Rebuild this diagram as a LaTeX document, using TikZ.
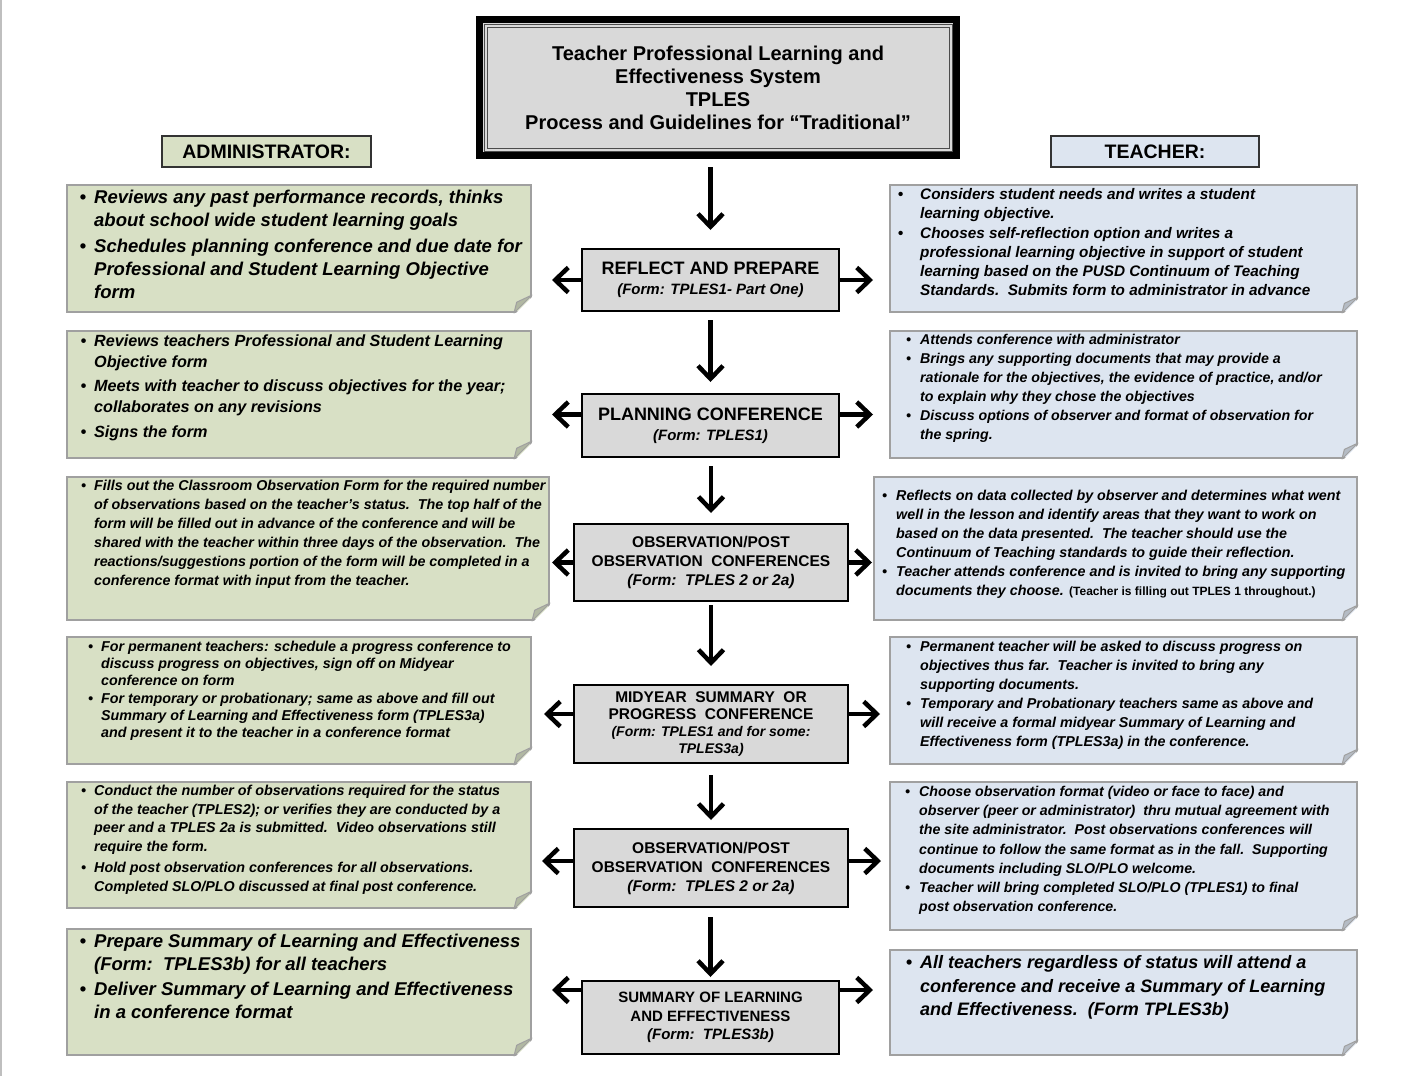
\documentclass[tikz,border=0pt]{standalone}
\usepackage{fontspec}
\setmainfont{Liberation Sans}
\usetikzlibrary{arrows.meta,positioning,calc}

\definecolor{admingreen}{RGB}{216,224,197}
\definecolor{teachblue}{RGB}{221,229,240}
\definecolor{stepgray}{RGB}{217,217,217}
\definecolor{noteline}{RGB}{160,160,160}

% hanging bullet and note font
\newcommand{\bul}[1]{\leavevmode\llap{\textbullet\hspace{#1pt}}}
\newcommand{\nf}[2]{\fontsize{#1}{#2}\selectfont\bfseries\itshape}

% folded corner: node, flap colour, size
\newcommand{\fold}[3]{%
  \fill[white] ([shift={(-#3pt,-2pt)}]#1.south east) -- ([shift={(2pt,-2pt)}]#1.south east)
               -- ([shift={(2pt,#3pt)}]#1.south east) -- cycle;
  \filldraw[fill=#2, draw=noteline, line width=1pt, line join=round]
      ([xshift=-#3pt]#1.south east) -- ([yshift=#3pt]#1.south east)
      -- ([shift={(-0.85*#3pt,0.6*#3pt)}]#1.south east) -- cycle;
}

\begin{document}
\begin{tikzpicture}[x=1pt, y=-1pt,
    notebox/.style={draw=noteline, line width=2pt, anchor=north west, inner sep=0pt},
    notetext/.style={anchor=north west, align=left, inner sep=0pt},
    stepbox/.style={draw=black, line width=2pt, fill=stepgray, align=center, inner sep=0pt},
    tagbox/.style={draw=black!80, line width=1.5pt, inner sep=0pt, font=\fontsize{19.5}{22}\selectfont\bfseries},
    flow/.style={line width=4.5pt, -{Straight Barb[length=13pt,width=25pt]}}]

    \useasboundingbox (0,0) rectangle (1409,1076);
    \draw[gray!50, line width=1.5pt] (0.75,0) -- (0.75,1076);

    % title
    \node[draw=black, line width=7pt, fill=stepgray, minimum width=477pt, minimum height=136pt,
          align=center, font=\fontsize{20}{23}\selectfont\bfseries] (title) at (718,87.5)
        {Teacher Professional Learning and\\ Effectiveness System\\ TPLES\\ Process and Guidelines for “Traditional”};
    \draw[black!70, line width=0.8pt] ([shift={(8pt,-8pt)}]title.north west) rectangle ([shift={(-8pt,8pt)}]title.south east);
    \draw[black!70, line width=0.8pt] ([shift={(11pt,-11pt)}]title.north west) rectangle ([shift={(-11pt,11pt)}]title.south east);

    % column heads
    \node[tagbox, fill=admingreen, minimum width=209pt, minimum height=31pt] (admin) at (266.5,151.5) {ADMINISTRATOR:};
    \node[tagbox, fill=teachblue, minimum width=208pt, minimum height=31pt] (teach) at (1155,151.5) {TEACHER:};

    % steps
    \node[stepbox, minimum width=257pt, minimum height=62pt, font=\fontsize{15}{20}\selectfont\bfseries] (s1) at (710.5,280)
        {{\fontsize{18}{20}\selectfont REFLECT AND PREPARE}\\ {\itshape (Form: TPLES1- Part One)}};
    \node[stepbox, minimum width=257pt, minimum height=63pt, font=\fontsize{15}{20}\selectfont\bfseries] (s2) at (710.5,425.5)
        {{\fontsize{18}{20}\selectfont PLANNING CONFERENCE}\\ {\itshape (Form: TPLES1)}};
    \node[stepbox, minimum width=274pt, minimum height=77pt, font=\fontsize{15.5}{19}\selectfont\bfseries] (s3) at (711,562.5)
        {OBSERVATION/POST\\ OBSERVATION\ \ CONFERENCES\\ {\itshape (Form:\ \ TPLES 2 or 2a)}};
    \node[stepbox, minimum width=274pt, minimum height=78pt, font=\fontsize{15.5}{17}\selectfont\bfseries] (s4) at (711,724)
        {MIDYEAR\ \ SUMMARY\ \ OR\\ PROGRESS\ \ CONFERENCE\\ {\itshape\fontsize{14}{16}\selectfont (Form: TPLES1 and for some:}\\ {\itshape\fontsize{14}{16}\selectfont TPLES3a)}};
    \node[stepbox, minimum width=274pt, minimum height=78pt, font=\fontsize{15.5}{19}\selectfont\bfseries] (s5) at (711,868)
        {OBSERVATION/POST\\ OBSERVATION\ \ CONFERENCES\\ {\itshape (Form:\ \ TPLES 2 or 2a)}};
    \node[stepbox, minimum width=257pt, minimum height=73pt, font=\fontsize{15}{18.5}\selectfont\bfseries] (s6) at (710.5,1017.5)
        {SUMMARY OF LEARNING\\ AND EFFECTIVENESS\\ {\itshape (Form:\ \ TPLES3b)}};

    % administrator notes
    \node[notebox, fill=admingreen, minimum width=464pt, minimum height=127pt] (a1) at (66,184) {};
    \node[notebox, fill=admingreen, minimum width=464pt, minimum height=127pt] (a2) at (66,330) {};
    \node[notebox, fill=admingreen, minimum width=482pt, minimum height=143pt] (a3) at (66,476) {};
    \node[notebox, fill=admingreen, minimum width=464pt, minimum height=127pt] (a4) at (66,636) {};
    \node[notebox, fill=admingreen, minimum width=464pt, minimum height=126pt] (a5) at (66,781) {};
    \node[notebox, fill=admingreen, minimum width=464pt, minimum height=126pt] (a6) at (66,928) {};
    \foreach \n in {a1,a2,a3,a4,a5,a6} {\fold{\n}{admingreen!82!black}{18}}

    % teacher notes
    \node[notebox, fill=teachblue, minimum width=467pt, minimum height=127pt] (t1) at (889,184) {};
    \node[notebox, fill=teachblue, minimum width=467pt, minimum height=127pt] (t2) at (889,330) {};
    \node[notebox, fill=teachblue, minimum width=483pt, minimum height=143pt] (t3) at (873,476) {};
    \node[notebox, fill=teachblue, minimum width=467pt, minimum height=127pt] (t4) at (889,636) {};
    \node[notebox, fill=teachblue, minimum width=467pt, minimum height=148pt] (t5) at (889,781) {};
    \node[notebox, fill=teachblue, minimum width=467pt, minimum height=105pt] (t6) at (889,949) {};
    \foreach \n in {t1,t2,t3,t4,t5,t6} {\fold{\n}{teachblue!82!black}{16}}

    % administrator texts
    \node[notetext, font=\nf{18.5}{23}] (a1t) at (94,190)
        {\bul{8}Reviews any past performance records, thinks\\ about school wide student learning goals\\[3pt]
         \bul{8}Schedules planning conference and due date for\\ Professional and Student Learning Objective\\ form};
    \node[notetext, font=\nf{16.2}{21}] (a2t) at (94,335)
        {\bul{8}Reviews teachers Professional and Student Learning\\ Objective form\\[3pt]
         \bul{8}Meets with teacher to discuss objectives for the year;\\ collaborates on any revisions\\[4pt]
         \bul{8}Signs the form};
    \node[notetext, font=\nf{14.3}{19}] (a3t) at (94,480)
        {\bul{8}Fills out the Classroom Observation Form for the required number\\
         of observations based on the teacher’s status.\ \ The top half of the\\
         form will be filled out in advance of the conference and will be\\
         shared with the teacher within three days of the observation.\ \ The\\
         reactions/suggestions portion of the form will be completed in a\\
         conference format with input from the teacher.};
    \node[notetext, font=\nf{14.3}{17}] (a4t) at (101,641)
        {\bul{8}For permanent teachers: schedule a progress conference to\\ discuss progress on objectives, sign off on Midyear\\ conference on form\\[1pt]
         \bul{8}For temporary or probationary; same as above and fill out\\ Summary of Learning and Effectiveness form (TPLES3a)\\ and present it to the teacher in a conference format};
    \node[notetext, font=\nf{14.3}{18.5}] (a5t) at (94,785)
        {\bul{8}Conduct the number of observations required for the status\\ of the teacher (TPLES2); or verifies they are conducted by a\\
         peer and a TPLES 2a is submitted.\ \ Video observations still\\ require the form.\\[3pt]
         \bul{8}Hold post observation conferences for all observations.\\ Completed SLO/PLO discussed at final post conference.};
    \node[notetext, font=\nf{18.5}{23}] (a6t) at (94,934)
        {\bul{8}Prepare Summary of Learning and Effectiveness\\ (Form:\ \ TPLES3b) for all teachers\\[2pt]
         \bul{8}Deliver Summary of Learning and Effectiveness\\ in a conference format};

    % teacher texts
    \node[notetext, font=\nf{15.3}{19.2}] (t1t) at (920,188.5)
        {\bul{17}Considers student needs and writes a student\\ learning objective.\\
         \bul{17}Chooses self-reflection option and writes a\\ professional learning objective in support of student\\
         learning based on the PUSD Continuum of Teaching\\ Standards.\ \ Submits form to administrator in advance};
    \node[notetext, font=\nf{14.2}{19}] (t2t) at (920,334)
        {\bul{9}Attends conference with administrator\\
         \bul{9}Brings any supporting documents that may provide a\\ rationale for the objectives, the evidence of practice, and/or\\ to explain why they chose the objectives\\
         \bul{9}Discuss options of observer and format of observation for\\ the spring.};
    \node[notetext, font=\nf{14.3}{19}] (t3t) at (896,490)
        {\bul{9}Reflects on data collected by observer and determines what went\\ well in the lesson and identify areas that they want to work on\\
         based on the data presented.\ \ The teacher should use the\\ Continuum of Teaching standards to guide their reflection.\\
         \bul{9}Teacher attends conference and is invited to bring any supporting\\
         documents they choose. {\upshape\fontsize{12}{19}\selectfont (Teacher is filling out TPLES 1 throughout.)}};
    \node[notetext, font=\nf{14.3}{19}] (t4t) at (920,641)
        {\bul{9}Permanent teacher will be asked to discuss progress on\\ objectives thus far.\ \ Teacher is invited to bring any\\ supporting documents.\\
         \bul{9}Temporary and Probationary teachers same as above and\\ will receive a formal midyear Summary of Learning and\\ Effectiveness form (TPLES3a) in the conference.};
    \node[notetext, font=\nf{14.2}{19.2}] (t5t) at (919,786)
        {\bul{9}Choose observation format (video or face to face) and\\ observer (peer or administrator)\ \ thru mutual agreement with\\
         the site administrator.\ \ Post observations conferences will\\ continue to follow the same format as in the fall.\ \ Supporting\\
         documents including SLO/PLO welcome.\\
         \bul{9}Teacher will bring completed SLO/PLO (TPLES1) to final\\ post observation conference.};
    \node[notetext, font=\nf{18}{23.5}] (t6t) at (920,955.5)
        {\bul{8}All teachers regardless of status will attend a\\ conference and receive a Summary of Learning\\ and Effectiveness.\ \ (Form TPLES3b)};

    % down the middle
    \foreach \from/\to/\sa/\sb in {title/s1/8/18, s1/s2/8/11, s2/s3/8/10, s3/s4/3/18, s4/s5/11/8, s5/s6/9/3}
        \draw[flow, shorten <=\sa pt, shorten >=\sb pt] (\from.south -| \to.north) -- (\to.north);

    % out to both sides
    \foreach \i/\dy/\sl/\sr in {1/0/20/16, 2/11/20/16, 3/0/2/1, 4/10/12/9, 5/7/10/8, 6/27.5/20/16} {
        \coordinate (l\i) at ([yshift=\dy pt]s\i.west);
        \coordinate (r\i) at ([yshift=\dy pt]s\i.east);
        \draw[flow, shorten >=\sl pt] (l\i) -- (l\i -| a\i.east);
        \draw[flow, shorten >=\sr pt] (r\i) -- (r\i -| t\i.west);
    }
\end{tikzpicture}
\end{document}
